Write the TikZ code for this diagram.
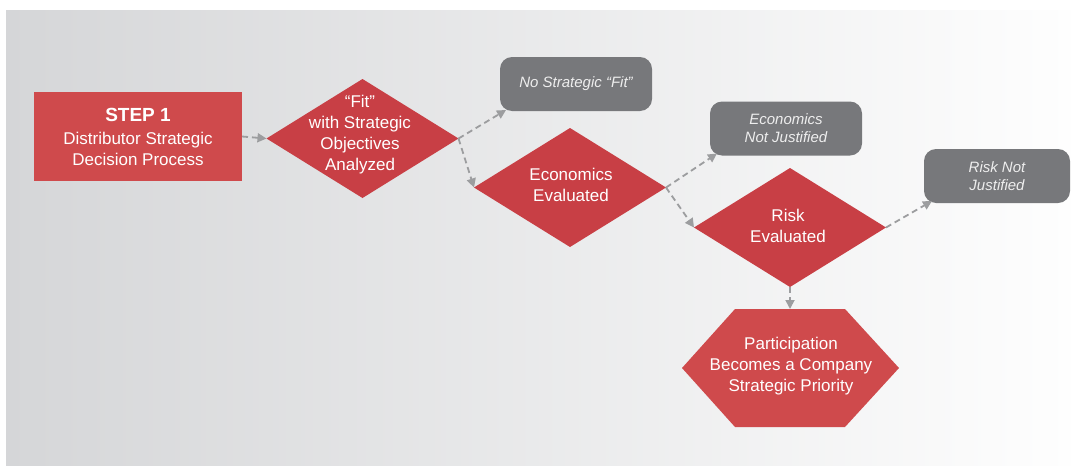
\documentclass[tikz,border=0pt]{standalone}
\usepackage{fontspec}
\setmainfont{Liberation Sans}
\usetikzlibrary{shapes.geometric,arrows.meta,calc}
\definecolor{boxred}{HTML}{CF4A4C}
\definecolor{diared}{HTML}{C83F45}
\definecolor{note}{HTML}{77787B}
\definecolor{notetext}{HTML}{EEEEEE}
\definecolor{flow}{HTML}{9C9D9F}
\definecolor{bgleft}{HTML}{D5D6D8}
\definecolor{bgright}{HTML}{FEFEFE}

\begin{document}
\begin{tikzpicture}[x=1pt,y=-1pt,
  every node/.style={font=\fontsize{17}{21}\selectfont, text=white, align=center},
  stepbox/.style={fill=boxred, minimum width=208pt, minimum height=89pt, inner sep=0, outer sep=0},
  decision/.style={diamond, fill=diared, minimum width=192pt, minimum height=119pt, inner sep=0, outer sep=0},
  outcome/.style={fill=note, rounded corners=12pt, minimum height=54pt, inner sep=0, outer sep=0,
    font=\itshape\fontsize{15}{18}\selectfont, text=notetext},
  link/.style={draw=flow, line width=1.8pt, dash pattern=on 6pt off 4pt,
    -{Triangle[length=9pt,width=9pt]}}
]
% canvas and shaded backdrop
\useasboundingbox (0,0) rectangle (1071,466);
\fill[white] (0,0) rectangle (1071,466);
\shade[left color=bgleft, right color=bgright] (6,10) rectangle (1071,465);

% starting step
\node[stepbox] (step1) at (138,136.5)
  {{\bfseries\fontsize{19}{21}\selectfont STEP 1}\\[2pt]Distributor Strategic\\Decision Process};

% decision diamonds
\node[decision] (d1) at (362.5,138.5) {};
\node (d1txt) at (360,135) {“Fit”\\with Strategic\\Objectives\\Analyzed};

\node[decision] (d2) at (570,187.5) {};
\node (d2txt) at (571,185) {Economics\\Evaluated};

\node[decision] (d3) at (790,227.5) {};
\node (d3txt) at (788,225.5) {Risk\\Evaluated};

% rejected outcomes
\node[outcome, minimum width=152pt] (nofit) at (576,84) {No Strategic “Fit”};
\node[outcome, minimum width=152pt] (econnj) at (786,128.5) {Economics\\Not Justified};
\node[outcome, minimum width=146pt] (risknj) at (997,176) {Risk Not\\Justified};

% final outcome hexagon
\fill[boxred] (682,368) -- (735,309) -- (845,309) -- (899,368) -- (845,427) -- (735,427) -- cycle;
\coordinate (hextop) at (790,309);
\node (hex) at (791,366) {Participation\\Becomes a Company\\Strategic Priority};

% connectors
\draw[link] (step1.east) -- (d1.west);
\draw[link] (d1.east) -- ($(nofit.south west)+(6,-1)$);
\draw[link] (d1.east) -- (d2.west);
\draw[link] (d2.east) -- ($(econnj.south west)+(7,-2)$);
\draw[link] (d2.east) -- (d3.west);
\draw[link] (d3.east) -- ($(risknj.south west)+(8,-2)$);
\draw[link] (d3.south) -- (hextop);
\end{tikzpicture}
\end{document}
